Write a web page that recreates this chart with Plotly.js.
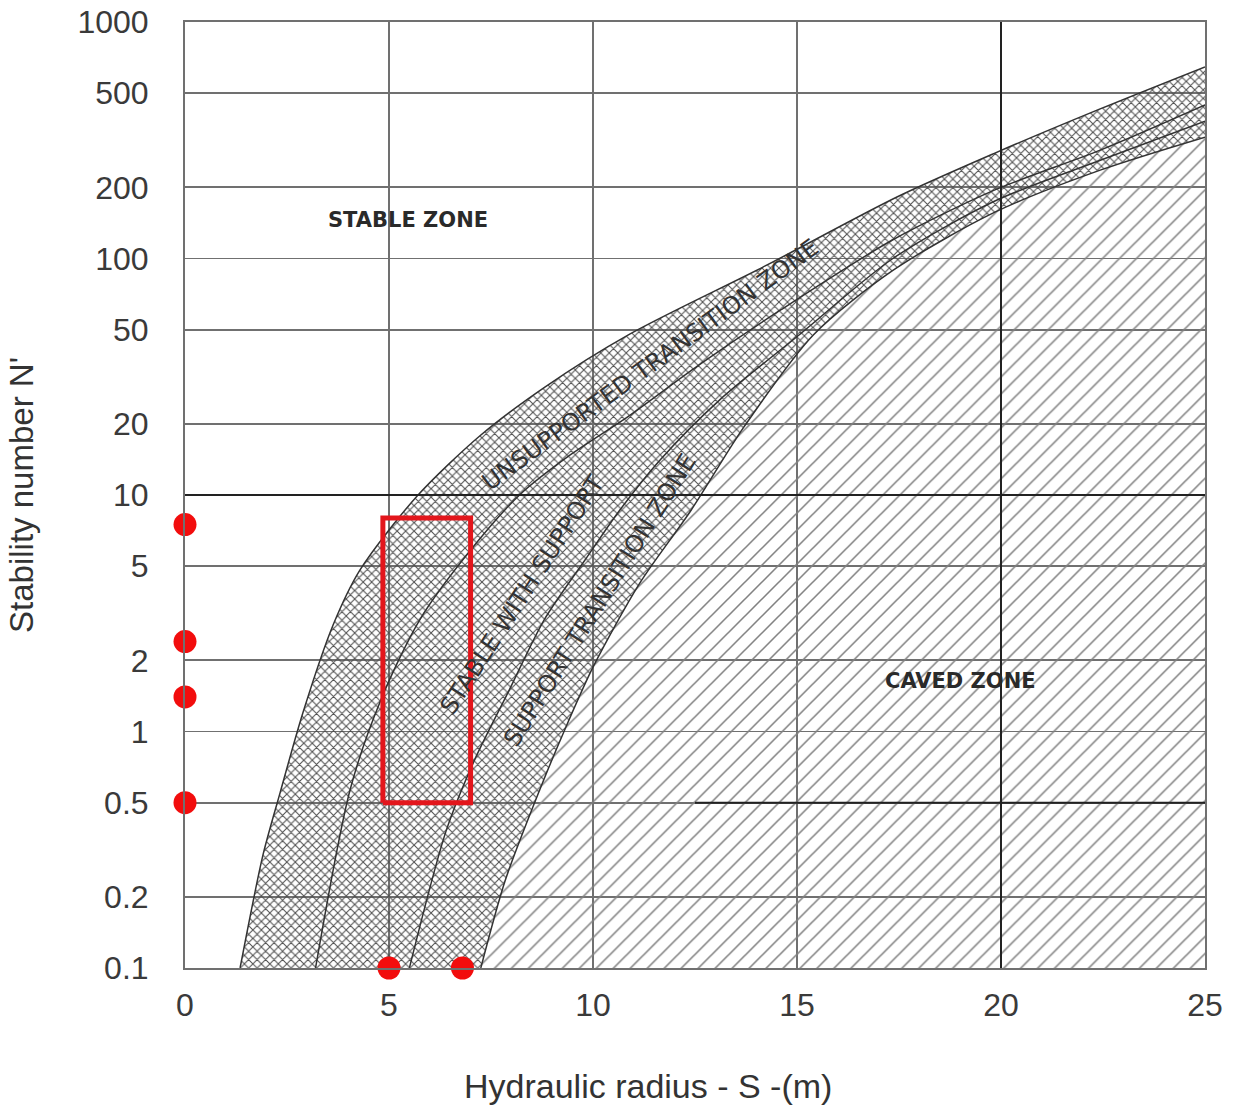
<!DOCTYPE html>
<html><head><meta charset="utf-8">
<script src="https://cdn.plot.ly/plotly-3.0.1.min.js"></script>
<style>html,body{margin:0;padding:0;background:#fff}</style>
</head><body>
<div id="chart" style="width:1234px;height:1114px"></div>
<script>
// ---- axis ticks ----
const xTickVals = [0, 5, 10, 15, 20, 25];
const yTickVals = [0.1, 0.2, 0.5, 1, 2, 5, 10, 20, 50, 100, 200, 500, 1000];
const yTickText = ['0.1', '0.2', '0.5', '1', '2', '5', '10', '20', '50', '100', '200', '500', '1000'];

// ---- zone boundary curves (hydraulic radius S, stability number N') ----
// A: stable zone / unsupported transition zone
const curveA_S = [1.35, 1.91, 2.33, 2.89, 3.63, 4.29, 5.69, 7.23, 8.82, 10.91, 14.22, 17.45, 19.85, 22.43, 25];
const curveA_N = [0.1, 0.3, 0.55, 1.2, 2.82, 4.82, 9.9, 17.8, 28.6, 48, 93, 182, 279, 429, 646];
// B: unsupported transition zone / stable with support
const curveB_S = [3.2, 4.05, 4.8, 5.75, 7.0, 8.2, 9.45, 10.85, 12.6, 14.6, 17.35, 19.85, 22.45, 25];
const curveB_N = [0.1, 0.57, 1.36, 2.96, 5.85, 10, 14.8, 21.4, 35.5, 60.6, 120, 195, 288, 446];
// C: stable with support / support transition zone
const curveC_S = [5.5, 6.4, 7.1, 7.95, 8.8, 9.8, 10.65, 11.65, 13.1, 15.05, 17.35, 19.85, 22.45, 25];
const curveC_N = [0.1, 0.38, 0.76, 1.5, 2.96, 5.3, 8.6, 14.1, 25.2, 47.5, 100, 175, 261, 381];
// D: support transition zone / caved zone
const curveD_S = [7.25, 7.85, 8.7, 9.3, 10.0, 11.15, 12.4, 13.7, 15.4, 17.35, 19.85, 22.45, 25];
const curveD_N = [0.1, 0.235, 0.57, 1.01, 1.87, 4.25, 8.6, 19.4, 47.5, 89, 157, 237, 326];

// ---- emphasised grid lines ----
const darkGridS = 20;
const darkGridN = 10;
const partialGridN = 0.5;
const partialGridStartS = 12.5;

// ---- red markings ----
const dotsN_values = [7.5, 2.4, 1.4, 0.5];
const dotsN_S = [0, 0, 0, 0];
const dotsS_values = [5.0, 6.8];
const dotsS_N = [0.1, 0.1];
const boxS = [4.85, 7.0];
const boxN = [0.5, 8];

// ---- labels ----
const zoneLabels = ['STABLE ZONE', 'CAVED ZONE', 'UNSUPPORTED TRANSITION ZONE', 'STABLE WITH SUPPORT', 'SUPPORT TRANSITION ZONE'];
const zoneLabelS = [5.47, 19.0, 11.4, 8.26, 10.17];
const zoneLabelN = [146, 1.63, 35.5, 3.78, 3.6];
const zoneLabelAngle = [0, 0, -36, -57, -58];
const xTitle = 'Hydraulic radius - S -(m)';
const yTitle = "Stability number N'";

const yMin = yTickVals[0], yMax = yTickVals[yTickVals.length - 1];
const xMax = xTickVals[xTickVals.length - 1];
const smooth = {shape: 'spline', smoothing: 0.8};
const nLast = curveD_N[curveD_N.length - 1];

const traces = [];
// caved zone: between curve D and the bottom/right plot edges
traces.push({x: curveD_S, y: curveD_N, type: 'scatter', mode: 'lines',
  line: Object.assign({width: 0}, smooth), hoverinfo: 'skip'});
traces.push({x: [curveD_S[0], xMax, xMax], y: [yMin, yMin, nLast], type: 'scatter', mode: 'lines',
  fill: 'tonexty', fillcolor: 'rgba(0,0,0,0)',
  fillpattern: {shape: '/', fgcolor: '#808080', bgcolor: 'rgba(0,0,0,0)', size: 12, solidity: 0.13},
  line: {width: 0}, hoverinfo: 'skip'});
// transition bands: between curve D and curve A
traces.push({x: curveD_S, y: curveD_N, type: 'scatter', mode: 'lines',
  line: Object.assign({width: 0}, smooth), hoverinfo: 'skip'});
traces.push({x: curveA_S, y: curveA_N, type: 'scatter', mode: 'lines',
  fill: 'tonexty', fillcolor: 'rgba(0,0,0,0)',
  fillpattern: {shape: 'x', fgcolor: '#505050', bgcolor: 'rgba(0,0,0,0)', size: 6, solidity: 0.32},
  line: Object.assign({width: 0}, smooth), hoverinfo: 'skip'});
// boundary lines
[[curveA_S, curveA_N], [curveB_S, curveB_N], [curveC_S, curveC_N], [curveD_S, curveD_N]].forEach(function (c) {
  traces.push({x: c[0], y: c[1], type: 'scatter', mode: 'lines',
    line: Object.assign({color: '#333', width: 1.5}, smooth), hoverinfo: 'skip'});
});
// emphasised grid lines
traces.push({x: [darkGridS, darkGridS], y: [yMin, yMax], type: 'scatter', mode: 'lines',
  line: {color: '#222', width: 2}, hoverinfo: 'skip'});
traces.push({x: [0, xMax], y: [darkGridN, darkGridN], type: 'scatter', mode: 'lines',
  line: {color: '#222', width: 2}, hoverinfo: 'skip'});
traces.push({x: [partialGridStartS, xMax], y: [partialGridN, partialGridN], type: 'scatter', mode: 'lines',
  line: {color: '#222', width: 2}, hoverinfo: 'skip'});
// red box
traces.push({
  x: [boxS[0], boxS[1], boxS[1], boxS[0], boxS[0]],
  y: [boxN[0], boxN[0], boxN[1], boxN[1], boxN[0]],
  type: 'scatter', mode: 'lines', line: {color: '#e3161c', width: 5}, hoverinfo: 'skip'
});
// red dots
traces.push({x: dotsN_S, y: dotsN_values, type: 'scatter', mode: 'markers', cliponaxis: false,
  marker: {color: '#f20d0d', size: 23, line: {width: 0}}, hoverinfo: 'skip'});
traces.push({x: dotsS_values, y: dotsS_N, type: 'scatter', mode: 'markers', cliponaxis: false,
  marker: {color: '#f20d0d', size: 23, line: {width: 0}}, hoverinfo: 'skip'});

const annotations = zoneLabels.map(function (t, i) {
  const horiz = i < 2;
  return {text: t, x: zoneLabelS[i], y: Math.log10(zoneLabelN[i]), xref: 'x', yref: 'y',
    showarrow: false, textangle: zoneLabelAngle[i],
    font: {family: 'DejaVu Sans, Liberation Sans, Arial', size: horiz ? 21 : 24,
      weight: horiz ? 'bold' : 'normal', color: horiz ? '#2a2a2a' : '#333'}};
});
annotations.push({text: xTitle, xref: 'paper', yref: 'paper', x: 0.454, y: -0.1247,
  xanchor: 'center', yanchor: 'middle', showarrow: false,
  font: {family: 'Liberation Sans, Arial', size: 34, color: '#333'}});

const tickFont = {family: 'Liberation Sans, Arial', size: 32, color: '#3a3a3a'};
const layout = {
  width: 1234, height: 1114,
  margin: {l: 185, r: 29, t: 22, b: 146},
  paper_bgcolor: '#fff', plot_bgcolor: '#fff',
  showlegend: false, hovermode: false,
  xaxis: {range: [0, xMax], tickvals: xTickVals, ticktext: xTickVals.map(String),
    showgrid: true, gridcolor: '#707070', gridwidth: 1.8, zeroline: false,
    showline: true, mirror: true, linecolor: '#707070', linewidth: 2,
    ticks: 'outside', ticklen: 8, tickcolor: 'rgba(0,0,0,0)', tickfont: tickFont},
  yaxis: {type: 'log', range: [Math.log10(yMin), Math.log10(yMax)],
    tickvals: yTickVals, ticktext: yTickText,
    showgrid: true, gridcolor: '#707070', gridwidth: 1.8, zeroline: false,
    showline: true, mirror: true, linecolor: '#707070', linewidth: 2,
    ticks: 'outside', ticklen: 28, tickcolor: 'rgba(0,0,0,0)', tickfont: tickFont,
    title: {text: yTitle, standoff: 34, font: {family: 'Liberation Sans, Arial', size: 33, color: '#333'}}},
  annotations: annotations
};
Plotly.newPlot('chart', traces, layout, {staticPlot: true, displayModeBar: false});
</script>
</body></html>
